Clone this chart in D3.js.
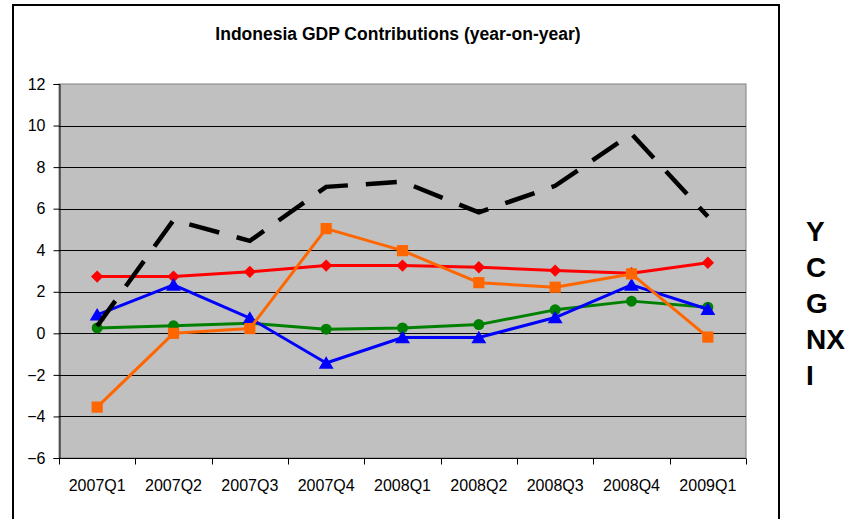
<!DOCTYPE html>
<html>
<head>
<meta charset="utf-8">
<script src="https://cdn.jsdelivr.net/npm/d3@7/dist/d3.min.js"></script>
<style>
  html, body { margin: 0; padding: 0; background: #fff; }
  svg { display: block; font-family: "Liberation Sans", Arial, sans-serif; }
</style>
</head>
<body>
<svg id="chart" width="850" height="519"></svg>
<script>
// Quarterly contributions to GDP growth, percentage points (year-on-year)
const quarters = ["2007Q1", "2007Q2", "2007Q3", "2007Q4", "2008Q1", "2008Q2", "2008Q3", "2008Q4", "2009Q1"];
const gdpY  = [0.35, 5.45, 4.45, 7.05, 7.3, 5.82, 7.1, 9.6, 5.62];
const consC = [2.73, 2.73, 2.96, 3.26, 3.26, 3.18, 3.02, 2.89, 3.40];
const govG  = [0.26, 0.36, 0.49, 0.20, 0.26, 0.42, 1.13, 1.55, 1.26];
const netNX = [0.89, 2.33, 0.73, -1.43, -0.20, -0.20, 0.76, 2.33, 1.16];
const invI  = [-3.55, 0.00, 0.23, 5.04, 3.98, 2.44, 2.22, 2.86, -0.18];
const yTicks = [-6, -4, -2, 0, 2, 4, 6, 8, 10, 12];
const legendLabels = ["Y", "C", "G", "NX", "I"];

const svg = d3.select("#chart");
const plot = { left: 59, top: 84, right: 746, bottom: 458 };

// Outer chart frame
svg.append("rect")
  .attr("x", 13).attr("y", 5).attr("width", 766).attr("height", 540)
  .attr("fill", "#fff").attr("stroke", "#000").attr("stroke-width", 2);

svg.append("text")
  .attr("x", 398).attr("y", 40)
  .attr("text-anchor", "middle")
  .attr("font-size", 17.5).attr("font-weight", "bold")
  .text("Indonesia GDP Contributions (year-on-year)");

const x = d3.scaleBand().domain(quarters).range([plot.left, plot.right]);
const y = d3.scaleLinear().domain([-6, 12]).range([plot.bottom, plot.top]);

// Plot area background
svg.append("rect")
  .attr("x", plot.left).attr("y", plot.top)
  .attr("width", plot.right - plot.left).attr("height", plot.bottom - plot.top)
  .attr("fill", "#C0C0C0").attr("stroke", "#808080").attr("stroke-width", 1);

// Horizontal gridlines
svg.append("g")
  .selectAll("line")
  .data(yTicks.filter(t => t > -6 && t < 12))
  .join("line")
  .attr("x1", plot.left).attr("x2", plot.right)
  .attr("y1", d => Math.round(y(d)) + 0.5).attr("y2", d => Math.round(y(d)) + 0.5)
  .attr("stroke", "#000").attr("stroke-width", 1);

// Y axis
const yAxis = svg.append("g")
  .attr("transform", `translate(${plot.left + 0.5},0)`)
  .call(d3.axisLeft(y).tickValues(yTicks).tickSize(6).tickPadding(8).tickFormat(d3.format("d")));
yAxis.select(".domain").attr("stroke", "#000");
yAxis.selectAll("text").attr("font-size", 16).attr("fill", "#000")
  .attr("font-family", "'Liberation Sans', Arial, sans-serif");

// X axis with ticks on category boundaries
const xAxisG = svg.append("g").attr("transform", `translate(0,${plot.bottom + 0.5})`);
xAxisG.append("line")
  .attr("x1", plot.left).attr("x2", plot.right)
  .attr("stroke", "#000");
xAxisG.selectAll("line.tick")
  .data(d3.range(quarters.length + 1))
  .join("line").attr("class", "tick")
  .attr("x1", i => Math.round(plot.left + i * x.step()) + 0.5)
  .attr("x2", i => Math.round(plot.left + i * x.step()) + 0.5)
  .attr("y1", 0).attr("y2", 6)
  .attr("stroke", "#000");
xAxisG.selectAll("text")
  .data(quarters)
  .join("text")
  .attr("x", d => x(d) + x.bandwidth() / 2)
  .attr("y", 32)
  .attr("text-anchor", "middle")
  .attr("font-size", 16)
  .text(d => d);

const cx = i => x(quarters[i]) + x.bandwidth() / 2;

// Marker shapes
const markers = {
  diamond: r => `M0,${-r}L${r},0L0,${r}L${-r},0Z`,
  square: r => `M${-r},${-r}H${r}V${r}H${-r}Z`,
  circle: r => `M${r},0A${r},${r} 0 1,1 ${-r},0A${r},${r} 0 1,1 ${r},0Z`,
  triangle: r => `M0,${-r}L${r * 1.1},${r * 0.85}L${-r * 1.1},${r * 0.85}Z`
};

const series = [
  { name: "C", values: consC, color: "#FF0000", marker: "diamond", r: 6.2 },
  { name: "G", values: govG, color: "#008000", marker: "circle", r: 5.5 },
  { name: "NX", values: netNX, color: "#0000FF", marker: "triangle", r: 6.8 },
  { name: "I", values: invI, color: "#FF6600", marker: "square", r: 5.6 }
];

const line = d3.line().x((d, i) => cx(i)).y(d => y(d));

series.forEach(s => {
  const g = svg.append("g");
  g.append("path")
    .attr("d", line(s.values))
    .attr("fill", "none")
    .attr("stroke", s.color)
    .attr("stroke-width", 3)
    .attr("stroke-linejoin", "round");
  g.selectAll("path.mk")
    .data(s.values)
    .join("path").attr("class", "mk")
    .attr("transform", (d, i) => `translate(${cx(i)},${y(d)})`)
    .attr("d", markers[s.marker](s.r))
    .attr("fill", s.color);
});

// GDP growth (dashed, no markers)
svg.append("path")
  .attr("d", line(gdpY))
  .attr("fill", "none")
  .attr("stroke", "#000")
  .attr("stroke-width", 4.5)
  .attr("stroke-dasharray", "31,18")
  .attr("stroke-linejoin", "miter");

// Legend labels
svg.append("g")
  .selectAll("text")
  .data(legendLabels)
  .join("text")
  .attr("x", 806)
  .attr("y", (d, i) => 231 + i * 36)
  .attr("dy", "0.36em")
  .attr("font-size", 28)
  .attr("font-weight", "bold")
  .text(d => d);
</script>
</body>
</html>
